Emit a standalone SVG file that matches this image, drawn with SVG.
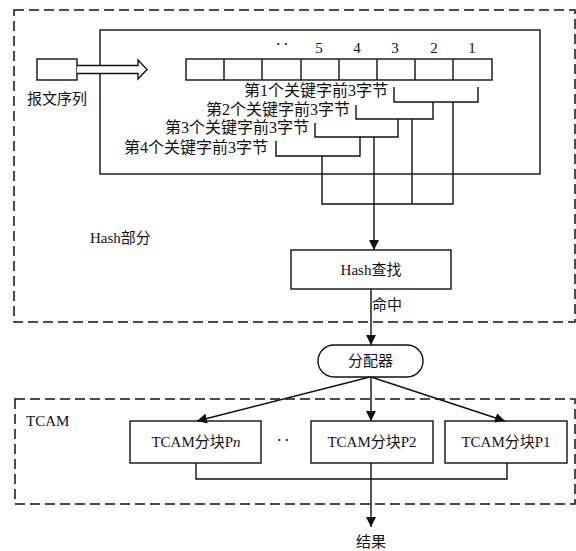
<svg xmlns="http://www.w3.org/2000/svg" width="576" height="551" viewBox="0 0 576 551">
  <style>
    .txt { font-family: "Liberation Serif", "Noto Sans CJK SC", serif; font-size: 15px; fill: #111; }
    .key { font-size: 16px; text-anchor: end; }
    .mid { text-anchor: middle; }
    .box { fill: #fff; stroke: #111; stroke-width: 1.4; }
    .frame { fill: none; stroke: #111; stroke-width: 1.4; }
    .dash { fill: none; stroke: #111; stroke-width: 1.5; stroke-dasharray: 10 5; }
    .ln { fill: none; stroke: #111; stroke-width: 1.4; }
  </style>
  <defs>
    <marker id="arrow" viewBox="0 0 10 10" refX="10" refY="5" markerWidth="10" markerHeight="10" markerUnits="userSpaceOnUse" orient="auto">
      <path d="M0,0 L10,5 L0,10 Z" fill="#111"/>
    </marker>
  </defs>
  <rect width="576" height="551" fill="#fff"/>

  <!-- dashed region frames -->
  <g id="hash-region">
    <rect class="dash" x="14" y="10" width="561" height="312"/>
    <text class="txt" x="90" y="243">Hash部分</text>
  </g>
  <g id="tcam-region">
    <rect class="dash" x="15" y="399" width="560" height="105"/>
    <text class="txt" x="26" y="426">TCAM</text>
  </g>

  <!-- key extraction frame -->
  <g id="key-frame">
    <rect class="frame" x="100" y="30" width="440" height="144"/>
    <g id="cells">
      <rect class="box" x="186" y="59" width="306" height="21"/>
      <path class="ln" d="M224,59 V80 M262,59 V80 M301,59 V80 M339,59 V80 M377,59 V80 M415,59 V80 M453,59 V80"/>
    </g>
    <g class="txt mid">
      <text x="282" y="50">‥</text>
      <text x="319" y="53">5</text>
      <text x="357" y="53">4</text>
      <text x="395" y="53">3</text>
      <text x="434" y="53">2</text>
      <text x="472" y="53">1</text>
    </g>
    <text class="txt key" x="388" y="96">第1个关键字前3字节</text>
    <text class="txt key" x="350" y="115">第2个关键字前3字节</text>
    <text class="txt key" x="309" y="133">第3个关键字前3字节</text>
    <text class="txt key" x="268" y="153">第4个关键字前3字节</text>
  </g>

  <!-- packet source and hollow block arrow -->
  <g id="packet-source">
    <rect class="box" x="37" y="59" width="40" height="21"/>
    <path class="box" d="M77,65.5 H138 V60 L147,69.5 L138,79 V73.5 H77"/>
    <text class="txt" x="27" y="104" font-size="16">报文序列</text>
  </g>

  <g id="hash-lookup">
    <rect class="box" x="291" y="250" width="160" height="39"/>
    <text class="txt mid" x="371" y="275">Hash查找</text>
  </g>

  <g id="dispatcher">
    <rect class="box" x="318" y="345" width="105" height="32" rx="16" ry="16"/>
    <text class="txt mid" x="370.5" y="366" font-size="16">分配器</text>
  </g>

  <g id="tcam-pn">
    <rect class="box" x="130" y="421" width="131" height="42"/>
    <text class="txt mid" x="196" y="447">TCAM分块P<tspan font-style="italic">n</tspan></text>
  </g>
  <g id="tcam-p2">
    <rect class="box" x="311" y="421" width="122" height="42"/>
    <text class="txt mid" x="372" y="447">TCAM分块P2</text>
  </g>
  <g id="tcam-p1">
    <rect class="box" x="445" y="421" width="122" height="42"/>
    <text class="txt mid" x="506" y="447">TCAM分块P1</text>
  </g>
  <text class="txt mid" x="283" y="446">‥</text>

  <g id="connectors">
    <!-- key brackets -->
    <path class="ln" d="M394,87 V102 H478 V87"/>
    <path class="ln" d="M356,105 V119 H433 V102"/>
    <path class="ln" d="M315,123 V137 H398 V119"/>
    <path class="ln" d="M276,141 V156 H360 V137"/>
    <!-- drops into merge bus -->
    <path class="ln" d="M453,102 V204 H322 V156"/>
    <path class="ln" d="M412,119 V204"/>
    <path class="ln" d="M374,137 V250" marker-end="url(#arrow)"/>
    <!-- hash hit to dispatcher -->
    <path class="ln" d="M371,289 V345" marker-end="url(#arrow)"/>
    <text class="txt" x="372" y="310">命中</text>
    <!-- dispatcher fan-out -->
    <path class="ln" d="M370,377 L197,421" marker-end="url(#arrow)"/>
    <path class="ln" d="M371,377 V421" marker-end="url(#arrow)"/>
    <path class="ln" d="M371,377 L505,421" marker-end="url(#arrow)"/>
    <!-- result collection -->
    <path class="ln" d="M196,463 V479 H507 V463"/>
    <path class="ln" d="M371,463 V527" marker-end="url(#arrow)"/>
    <text class="txt mid" x="371" y="547" font-size="16">结果</text>
  </g>
</svg>
